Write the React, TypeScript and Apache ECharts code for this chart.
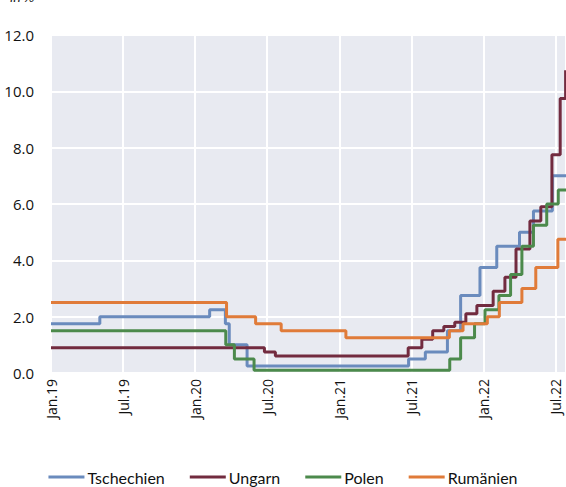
import React, { useEffect, useRef } from "react";
import * as echarts from "echarts";

// Policy rate change points: [effective date, rate in %]
const tschechien: [string, number][] = [
  ["2019-01-01", 1.75], ["2019-05-03", 2.0], ["2020-02-07", 2.25], ["2020-03-17", 1.75],
  ["2020-03-27", 1.0], ["2020-05-11", 0.25], ["2021-06-24", 0.5], ["2021-08-06", 0.75],
  ["2021-10-01", 1.5], ["2021-11-04", 2.75], ["2021-12-23", 3.75], ["2022-02-04", 4.5],
  ["2022-04-01", 5.0], ["2022-05-06", 5.75], ["2022-06-23", 7.0],
];
const ungarn: [string, number][] = [
  ["2019-01-01", 0.9], ["2020-06-24", 0.75], ["2020-07-22", 0.6], ["2021-06-23", 0.9],
  ["2021-07-28", 1.2], ["2021-08-25", 1.5], ["2021-09-22", 1.65], ["2021-10-20", 1.8],
  ["2021-11-17", 2.1], ["2021-12-15", 2.4], ["2022-01-26", 2.9], ["2022-02-23", 3.4],
  ["2022-03-23", 4.4], ["2022-04-27", 5.4], ["2022-05-25", 5.9], ["2022-06-22", 7.75],
  ["2022-07-13", 9.75], ["2022-07-27", 10.75],
];
const polen: [string, number][] = [
  ["2019-01-01", 1.5], ["2020-03-18", 1.0], ["2020-04-09", 0.5], ["2020-05-29", 0.1],
  ["2021-10-07", 0.5], ["2021-11-04", 1.25], ["2021-12-09", 1.75], ["2022-01-05", 2.25],
  ["2022-02-09", 2.75], ["2022-03-09", 3.5], ["2022-04-07", 4.5], ["2022-05-06", 5.25],
  ["2022-06-09", 6.0], ["2022-07-08", 6.5],
];
const rumaenien: [string, number][] = [
  ["2019-01-01", 2.5], ["2020-03-20", 2.0], ["2020-06-02", 1.75], ["2020-08-06", 1.5],
  ["2021-01-18", 1.25], ["2021-10-06", 1.5], ["2021-11-10", 1.75], ["2022-01-11", 2.0],
  ["2022-02-10", 2.5], ["2022-04-07", 3.0], ["2022-05-12", 3.75], ["2022-07-07", 4.75],
];

const seriesNames = ["Tschechien", "Ungarn", "Polen", "Rumänien"];
const seriesColors = ["#6a8bbd", "#722b3f", "#4c8a4c", "#e07b39"];
const seriesData = [tschechien, ungarn, polen, rumaenien];
const yTicks = [0, 2, 4, 6, 8, 10, 12];
const monthNames = ["Jan", "Jul"];
const endDate = "2022-07-28";

// Position on the x axis in months since Jan 2019 (fractional within a month)
const monthPos = (d: string): number => {
  const [y, m, day] = d.split("-").map(Number);
  const daysInMonth = new Date(y, m, 0).getDate();
  return (y - 2019) * 12 + (m - 1) + (day - 1) / daysInMonth;
};

const xMax = monthPos(endDate);

const toSteps = (pts: [string, number][]) => {
  const out = pts.map(([d, v]) => [monthPos(d), v]);
  out.push([xMax, pts[pts.length - 1][1]]);
  return out;
};

export default function App() {
  const ref = useRef<HTMLDivElement>(null);

  useEffect(() => {
    if (!ref.current) return;
    const chart = echarts.init(ref.current, null, { renderer: "svg" });
    chart.setOption({
      animation: false,
      backgroundColor: "#ffffff",
      graphic: [
        {
          type: "text",
          left: 10,
          top: -11,
          style: { text: "in %", fontSize: 14, fontStyle: "italic", fontFamily: "Lato", fill: "#222" },
        },
      ],
      grid: {
        left: 51,
        top: 35,
        right: 0,
        bottom: 114,
        show: true,
        backgroundColor: "#e8eaf1",
        borderWidth: 0,
      },
      legend: {
        data: seriesNames.map((name) => ({ name, icon: "rect" })),
        left: "center",
        top: 469,
        padding: 0,
        itemWidth: 36,
        itemHeight: 3,
        itemGap: 25,
        textStyle: { fontFamily: "Lato", fontSize: 16, color: "#111", padding: [0, 0, 0, -2] },
      },
      xAxis: {
        type: "value",
        min: 0,
        max: xMax,
        interval: 6,
        axisLine: { show: false },
        axisTick: { show: false },
        splitLine: { show: true, lineStyle: { color: "#ffffff", width: 2 } },
        axisLabel: {
          rotate: 90,
          margin: 6,
          showMaxLabel: false,
          fontFamily: "Open Sans",
          fontSize: 14,
          color: "#111",
          formatter: (v: number) => {
            if (Math.abs(v % 6) > 1e-6) return "";
            const year = 19 + Math.floor(v / 12);
            const name = monthNames[(v % 12) / 6];
            return `${name}.${year}`;
          },
        },
      },
      yAxis: {
        type: "value",
        min: yTicks[0],
        max: yTicks[yTicks.length - 1],
        interval: 2,
        axisLine: { show: false },
        axisTick: { show: false },
        splitLine: { show: true, lineStyle: { color: "#ffffff", width: 2 } },
        axisLabel: {
          margin: 17,
          fontFamily: "Open Sans",
          fontSize: 15,
          color: "#111",
          formatter: (v: number) => v.toFixed(1),
        },
      },
      series: seriesData.map((pts, i) => ({
        name: seriesNames[i],
        type: "line",
        step: "end",
        symbol: "none",
        data: toSteps(pts),
        color: seriesColors[i],
        lineStyle: { color: seriesColors[i], width: 3 },
      })),
    });
    return () => chart.dispose();
  }, []);

  return (
    <div
      ref={ref}
      style={{ position: "absolute", left: 0, top: 0, width: 566, height: 487 }}
    />
  );
}
